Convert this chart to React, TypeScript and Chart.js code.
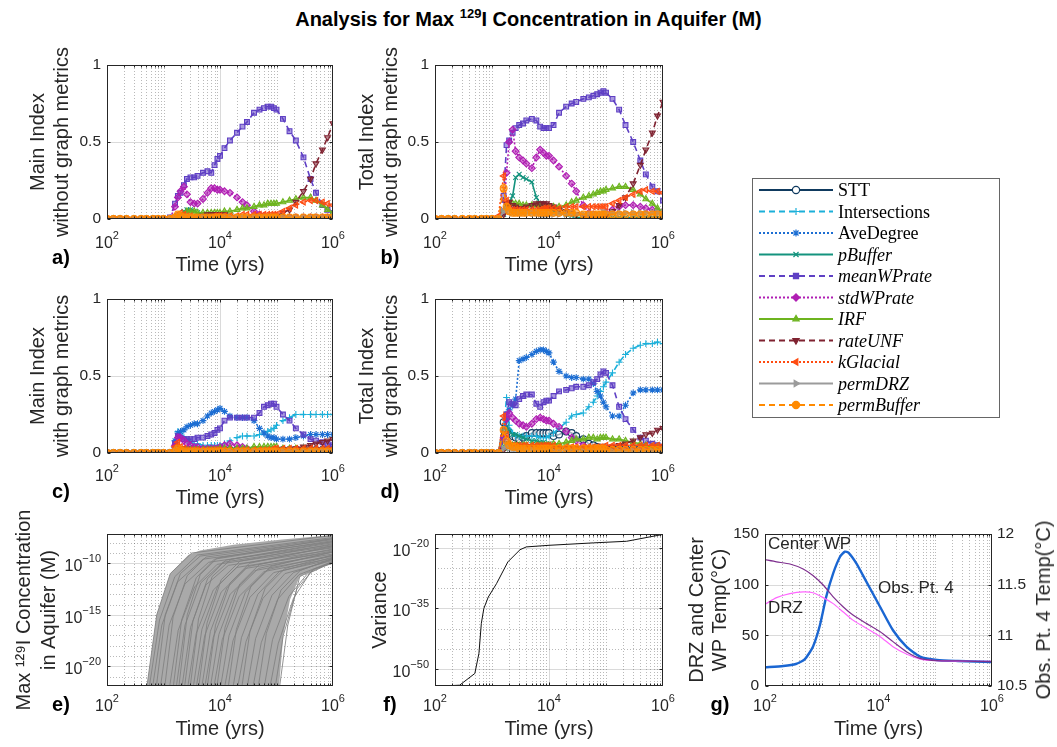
import React, { useEffect, useRef } from 'react';
import { Chart, registerables } from 'chart.js';

Chart.register(...registerables);

const SANS = "'Liberation Sans', Arial, Helvetica, sans-serif";
const SERIF = "'Liberation Serif', 'Times New Roman', serif";
const INK = '#262626';

// ------------------------------------------------------------------ DATA
const TIME_YRS = [100, 130, 170, 220, 300, 400, 500, 650, 800, 1000,
  1300, 1600, 1800, 2000, 2300, 2600, 3000, 3500, 4000, 5000,
  6000, 7000, 8000, 9000, 10000, 12000, 15000, 20000, 25000, 30000,
  40000, 50000, 60000, 70000, 80000, 90000, 100000, 130000, 170000, 220000,
  300000, 400000, 500000, 650000, 800000, 1000000];

const X_TICKS = [100, 10000, 1000000];

const SERIES_NAMES = ['STT', 'Intersections', 'AveDegree', 'pBuffer', 'meanWPrate', 'stdWPrate', 'IRF', 'rateUNF', 'kGlacial', 'permDRZ', 'permBuffer'];

// a) Main index without graph metrics
const A_PBUFFER = [0, 0, 0, 0, 0, 0, 0, 0, 0, 0, 0, 0.01, 0.02, 0.03, 0.05, 0.06, 0.06, 0.05, 0.04, 0.03, 0.02, 0.02, 0.02, 0.02, 0.01, 0.01, 0.01, 0.01, 0.01, 0.01, 0.01, 0.01, 0.01, 0.01, 0.01, 0.01, 0.01, 0.01, 0.01, 0.01, 0.01, 0.01, 0.01, 0.01, 0.01, 0.01];
const A_MEANWPRATE = [0, 0, 0, 0, 0, 0, 0, 0, 0, 0, 0.01, 0.10, 0.15, 0.17, 0.22, 0.26, 0.27, 0.27, 0.28, 0.30, 0.31, 0.30, 0.35, 0.39, 0.41, 0.46, 0.51, 0.56, 0.60, 0.63, 0.69, 0.71, 0.72, 0.73, 0.73, 0.72, 0.71, 0.65, 0.57, 0.51, 0.40, 0.26, 0.17, 0.09, 0.06, 0.04];
const A_STDWPRATE = [0, 0, 0, 0, 0, 0, 0, 0, 0, 0, 0, 0.08, 0.14, 0.18, 0.21, 0.16, 0.11, 0.10, 0.10, 0.13, 0.17, 0.20, 0.20, 0.19, 0.19, 0.18, 0.17, 0.14, 0.11, 0.09, 0.05, 0.03, 0.02, 0.01, 0.01, 0.01, 0.01, 0.01, 0.01, 0.01, 0.01, 0.01, 0.01, 0.01, 0.01, 0.01];
const A_IRF = [0, 0, 0, 0, 0, 0, 0, 0, 0, 0, 0, 0.01, 0.01, 0.02, 0.03, 0.05, 0.05, 0.05, 0.04, 0.04, 0.04, 0.04, 0.04, 0.04, 0.04, 0.05, 0.05, 0.06, 0.07, 0.07, 0.08, 0.09, 0.09, 0.10, 0.10, 0.10, 0.10, 0.11, 0.12, 0.13, 0.14, 0.14, 0.12, 0.09, 0.06, 0.04];
const A_RATEUNF = [0, 0, 0, 0, 0, 0, 0, 0, 0, 0, 0, 0.01, 0.01, 0.01, 0.01, 0.01, 0.01, 0.01, 0.01, 0.02, 0.03, 0.03, 0.03, 0.03, 0.03, 0.03, 0.02, 0.01, 0.01, 0.01, 0.01, 0.01, 0.01, 0.01, 0.01, 0.01, 0.02, 0.04, 0.06, 0.11, 0.18, 0.26, 0.36, 0.45, 0.53, 0.62];
const A_KGLACIAL = [0, 0, 0, 0, 0, 0, 0, 0, 0, 0, 0, 0.02, 0.03, 0.04, 0.03, 0.02, 0.02, 0.01, 0.01, 0.01, 0.01, 0.01, 0.02, 0.02, 0.02, 0.02, 0.02, 0.02, 0.03, 0.03, 0.03, 0.03, 0.03, 0.03, 0.03, 0.03, 0.03, 0.05, 0.07, 0.09, 0.11, 0.12, 0.12, 0.11, 0.10, 0.09];
const A_PERMDRZ = [0, 0, 0, 0, 0, 0, 0, 0, 0, 0, 0, 0.01, 0.02, 0.02, 0.01, 0.01, 0.01, 0.01, 0.01, 0.01, 0.01, 0.01, 0.01, 0.01, 0.01, 0.01, 0.01, 0.01, 0.01, 0.01, 0.01, 0.01, 0.01, 0.01, 0.01, 0.01, 0.01, 0.01, 0.01, 0.01, 0.01, 0.01, 0.01, 0.01, 0.01, 0.01];
const A_PERMBUFFER = [0, 0, 0, 0, 0, 0, 0, 0, 0, 0, 0, 0.01, 0.03, 0.02, 0.01, 0.01, 0.01, 0.01, 0.01, 0.01, 0.01, 0.01, 0.01, 0.01, 0.01, 0.01, 0.01, 0.01, 0.01, 0.01, 0.01, 0.01, 0.01, 0.01, 0.01, 0.01, 0.01, 0.01, 0.01, 0.01, 0.01, 0.01, 0.01, 0.01, 0.01, 0.01];

// b) Total index without graph metrics
const B_PBUFFER = [0, 0, 0, 0, 0, 0, 0, 0, 0, 0, 0, 0.03, 0.08, 0.10, 0.15, 0.27, 0.29, 0.27, 0.26, 0.24, 0.14, 0.10, 0.08, 0.07, 0.06, 0.05, 0.04, 0.03, 0.02, 0.01, 0.01, 0.01, 0.01, 0.01, 0.01, 0.01, 0.01, 0.01, 0.01, 0.01, 0.01, 0.01, 0.01, 0.01, 0.01, 0.01];
const B_MEANWPRATE = [0, 0, 0, 0, 0, 0, 0, 0, 0, 0, 0, 0.15, 0.48, 0.51, 0.56, 0.59, 0.61, 0.62, 0.64, 0.65, 0.64, 0.60, 0.59, 0.59, 0.59, 0.61, 0.69, 0.73, 0.75, 0.76, 0.78, 0.79, 0.80, 0.81, 0.82, 0.83, 0.82, 0.78, 0.71, 0.61, 0.50, 0.38, 0.29, 0.21, 0.18, 0.12];
const B_STDWPRATE = [0, 0, 0, 0, 0, 0, 0, 0, 0, 0, 0, 0.05, 0.30, 0.50, 0.58, 0.44, 0.40, 0.38, 0.36, 0.33, 0.40, 0.45, 0.43, 0.41, 0.41, 0.38, 0.34, 0.28, 0.23, 0.18, 0.09, 0.04, 0.03, 0.02, 0.02, 0.03, 0.04, 0.06, 0.08, 0.09, 0.09, 0.08, 0.07, 0.06, 0.05, 0.05];
const B_IRF = [0, 0, 0, 0, 0, 0, 0, 0, 0, 0, 0, 0.05, 0.08, 0.10, 0.10, 0.10, 0.10, 0.09, 0.09, 0.09, 0.09, 0.08, 0.08, 0.08, 0.08, 0.08, 0.08, 0.09, 0.11, 0.12, 0.14, 0.15, 0.16, 0.17, 0.18, 0.18, 0.19, 0.20, 0.21, 0.21, 0.19, 0.16, 0.13, 0.10, 0.07, 0.05];
const B_RATEUNF = [0, 0, 0, 0, 0, 0, 0, 0, 0, 0, 0, 0.03, 0.10, 0.11, 0.09, 0.08, 0.07, 0.07, 0.08, 0.09, 0.10, 0.10, 0.10, 0.10, 0.09, 0.08, 0.06, 0.05, 0.04, 0.03, 0.02, 0.01, 0.01, 0.01, 0.01, 0.01, 0.02, 0.05, 0.09, 0.14, 0.23, 0.35, 0.45, 0.56, 0.67, 0.76];
const B_KGLACIAL = [0, 0, 0, 0, 0, 0, 0, 0, 0, 0, 0.02, 0.28, 0.12, 0.07, 0.06, 0.06, 0.06, 0.06, 0.06, 0.06, 0.06, 0.06, 0.07, 0.07, 0.07, 0.07, 0.07, 0.08, 0.08, 0.08, 0.08, 0.08, 0.08, 0.08, 0.08, 0.08, 0.08, 0.10, 0.12, 0.14, 0.16, 0.18, 0.19, 0.18, 0.18, 0.17];
const B_PERMDRZ = [0, 0, 0, 0, 0, 0, 0, 0, 0, 0, 0, 0.05, 0.06, 0.05, 0.04, 0.04, 0.04, 0.04, 0.04, 0.04, 0.04, 0.03, 0.03, 0.03, 0.03, 0.03, 0.03, 0.03, 0.03, 0.03, 0.03, 0.03, 0.03, 0.03, 0.03, 0.04, 0.04, 0.04, 0.04, 0.04, 0.04, 0.04, 0.04, 0.04, 0.04, 0.04];
const B_PERMBUFFER = [0, 0, 0, 0, 0, 0, 0, 0, 0, 0, 0, 0.20, 0.08, 0.05, 0.04, 0.04, 0.04, 0.04, 0.04, 0.04, 0.04, 0.04, 0.04, 0.04, 0.04, 0.04, 0.04, 0.04, 0.04, 0.04, 0.03, 0.03, 0.03, 0.03, 0.03, 0.03, 0.03, 0.03, 0.03, 0.03, 0.03, 0.03, 0.03, 0.03, 0.03, 0.03];

// c) Main index with graph metrics
const C_STT = [0, 0, 0, 0, 0, 0, 0, 0, 0, 0, 0, 0.01, 0.02, 0.02, 0.02, 0.02, 0.02, 0.02, 0.02, 0.02, 0.02, 0.02, 0.02, 0.02, 0.02, 0.02, 0.02, 0.02, 0.02, 0.02, 0.02, 0.02, 0.02, 0.02, 0.02, 0.02, 0.02, 0.02, 0.02, 0.02, 0.02, 0.02, 0.02, 0.02, 0.02, 0.02];
const C_INTERSECTIONS = [0, 0, 0, 0, 0, 0, 0, 0, 0, 0, 0, 0.08, 0.14, 0.13, 0.10, 0.08, 0.07, 0.06, 0.06, 0.05, 0.05, 0.05, 0.05, 0.05, 0.05, 0.06, 0.08, 0.10, 0.11, 0.11, 0.11, 0.12, 0.13, 0.14, 0.15, 0.16, 0.18, 0.21, 0.23, 0.25, 0.25, 0.25, 0.25, 0.25, 0.25, 0.25];
const C_AVEDEGREE = [0, 0, 0, 0, 0, 0, 0, 0, 0, 0, 0, 0.08, 0.13, 0.14, 0.15, 0.17, 0.18, 0.19, 0.19, 0.21, 0.24, 0.26, 0.27, 0.28, 0.29, 0.27, 0.24, 0.23, 0.23, 0.23, 0.21, 0.16, 0.13, 0.11, 0.10, 0.10, 0.09, 0.09, 0.09, 0.10, 0.11, 0.12, 0.12, 0.12, 0.12, 0.12];
const C_PBUFFER = [0, 0, 0, 0, 0, 0, 0, 0, 0, 0, 0, 0.01, 0.03, 0.02, 0.01, 0.01, 0.01, 0.01, 0.01, 0.01, 0.01, 0.01, 0.01, 0.01, 0.01, 0.01, 0.01, 0.01, 0.01, 0.01, 0.01, 0.01, 0.01, 0.01, 0.01, 0.01, 0.01, 0.01, 0.01, 0.01, 0.01, 0.01, 0.01, 0.01, 0.01, 0.01];
const C_MEANWPRATE = [0, 0, 0, 0, 0, 0, 0, 0, 0, 0, 0, 0.06, 0.11, 0.10, 0.09, 0.09, 0.09, 0.09, 0.10, 0.10, 0.11, 0.12, 0.13, 0.15, 0.16, 0.21, 0.23, 0.23, 0.23, 0.23, 0.23, 0.26, 0.30, 0.31, 0.32, 0.32, 0.30, 0.25, 0.21, 0.16, 0.12, 0.09, 0.08, 0.07, 0.06, 0.05];
const C_STDWPRATE = [0, 0, 0, 0, 0, 0, 0, 0, 0, 0, 0, 0.05, 0.10, 0.10, 0.08, 0.06, 0.05, 0.04, 0.04, 0.03, 0.03, 0.03, 0.03, 0.03, 0.04, 0.05, 0.06, 0.05, 0.04, 0.03, 0.02, 0.01, 0.01, 0.01, 0.01, 0.01, 0.01, 0.01, 0.01, 0.01, 0.01, 0.01, 0.01, 0.01, 0.01, 0.01];
const C_IRF = [0, 0, 0, 0, 0, 0, 0, 0, 0, 0, 0, 0.01, 0.02, 0.02, 0.02, 0.02, 0.02, 0.02, 0.02, 0.02, 0.02, 0.02, 0.02, 0.02, 0.03, 0.03, 0.03, 0.03, 0.03, 0.03, 0.04, 0.04, 0.04, 0.04, 0.04, 0.04, 0.04, 0.03, 0.03, 0.03, 0.03, 0.03, 0.02, 0.02, 0.02, 0.02];
const C_RATEUNF = [0, 0, 0, 0, 0, 0, 0, 0, 0, 0, 0, 0.01, 0.01, 0.01, 0.01, 0.01, 0.01, 0.01, 0.01, 0.01, 0.01, 0.01, 0.01, 0.01, 0.01, 0.01, 0.01, 0.01, 0.01, 0.01, 0.01, 0.01, 0.01, 0.01, 0.01, 0.01, 0.02, 0.02, 0.02, 0.03, 0.04, 0.05, 0.06, 0.07, 0.08, 0.09];
const C_KGLACIAL = [0, 0, 0, 0, 0, 0, 0, 0, 0, 0, 0, 0.04, 0.07, 0.04, 0.03, 0.02, 0.02, 0.02, 0.02, 0.02, 0.02, 0.02, 0.02, 0.02, 0.02, 0.02, 0.02, 0.02, 0.02, 0.02, 0.02, 0.02, 0.02, 0.02, 0.02, 0.03, 0.03, 0.03, 0.03, 0.03, 0.03, 0.03, 0.03, 0.03, 0.03, 0.03];
const C_PERMDRZ = [0, 0, 0, 0, 0, 0, 0, 0, 0, 0, 0, 0.01, 0.02, 0.01, 0.01, 0.01, 0.01, 0.01, 0.01, 0.01, 0.01, 0.01, 0.01, 0.01, 0.01, 0.01, 0.01, 0.01, 0.01, 0.01, 0.01, 0.01, 0.01, 0.01, 0.01, 0.01, 0.01, 0.01, 0.01, 0.01, 0.01, 0.01, 0.01, 0.01, 0.01, 0.01];
const C_PERMBUFFER = [0, 0, 0, 0, 0, 0, 0, 0, 0, 0, 0, 0.01, 0.03, 0.02, 0.01, 0.01, 0.01, 0.01, 0.01, 0.01, 0.01, 0.01, 0.01, 0.01, 0.01, 0.01, 0.01, 0.01, 0.01, 0.01, 0.01, 0.01, 0.01, 0.01, 0.01, 0.01, 0.01, 0.01, 0.01, 0.01, 0.01, 0.01, 0.01, 0.01, 0.01, 0.01];

// d) Total index with graph metrics
const D_STT = [0, 0, 0, 0, 0, 0, 0, 0, 0, 0, 0, 0.20, 0.15, 0.12, 0.11, 0.10, 0.09, 0.10, 0.11, 0.13, 0.13, 0.13, 0.13, 0.13, 0.13, 0.11, 0.12, 0.14, 0.13, 0.11, 0.09, 0.06, 0.05, 0.04, 0.03, 0.03, 0.03, 0.03, 0.03, 0.03, 0.03, 0.03, 0.03, 0.03, 0.03, 0.03];
const D_INTERSECTIONS = [0, 0, 0, 0, 0, 0, 0, 0, 0, 0, 0, 0.15, 0.36, 0.18, 0.13, 0.11, 0.11, 0.11, 0.11, 0.11, 0.11, 0.10, 0.10, 0.10, 0.11, 0.13, 0.16, 0.20, 0.24, 0.25, 0.26, 0.30, 0.33, 0.37, 0.40, 0.43, 0.46, 0.52, 0.59, 0.64, 0.68, 0.70, 0.71, 0.71, 0.72, 0.71];
const D_AVEDEGREE = [0, 0, 0, 0, 0, 0, 0, 0, 0, 0, 0, 0.10, 0.22, 0.28, 0.31, 0.35, 0.60, 0.61, 0.62, 0.64, 0.66, 0.67, 0.67, 0.66, 0.65, 0.59, 0.53, 0.50, 0.49, 0.49, 0.48, 0.48, 0.45, 0.40, 0.37, 0.33, 0.30, 0.24, 0.24, 0.31, 0.39, 0.41, 0.41, 0.41, 0.41, 0.41];
const D_PBUFFER = [0, 0, 0, 0, 0, 0, 0, 0, 0, 0, 0, 0.08, 0.17, 0.14, 0.12, 0.12, 0.11, 0.10, 0.09, 0.08, 0.08, 0.07, 0.07, 0.06, 0.06, 0.05, 0.04, 0.04, 0.03, 0.03, 0.02, 0.02, 0.02, 0.02, 0.02, 0.02, 0.02, 0.02, 0.02, 0.02, 0.02, 0.02, 0.02, 0.02, 0.02, 0.02];
const D_MEANWPRATE = [0, 0, 0, 0, 0, 0, 0, 0, 0, 0, 0, 0.10, 0.25, 0.33, 0.32, 0.31, 0.35, 0.37, 0.38, 0.38, 0.32, 0.30, 0.33, 0.34, 0.34, 0.37, 0.40, 0.41, 0.42, 0.43, 0.43, 0.44, 0.46, 0.48, 0.51, 0.53, 0.52, 0.44, 0.30, 0.22, 0.15, 0.10, 0.08, 0.06, 0.05, 0.04];
const D_STDWPRATE = [0, 0, 0, 0, 0, 0, 0, 0, 0, 0, 0, 0.10, 0.22, 0.26, 0.23, 0.21, 0.19, 0.18, 0.17, 0.19, 0.22, 0.23, 0.22, 0.21, 0.21, 0.19, 0.17, 0.14, 0.10, 0.08, 0.05, 0.03, 0.02, 0.02, 0.02, 0.02, 0.02, 0.02, 0.02, 0.02, 0.02, 0.02, 0.02, 0.02, 0.02, 0.02];
const D_IRF = [0, 0, 0, 0, 0, 0, 0, 0, 0, 0, 0, 0.03, 0.05, 0.06, 0.05, 0.05, 0.05, 0.05, 0.05, 0.05, 0.05, 0.05, 0.05, 0.05, 0.05, 0.06, 0.06, 0.07, 0.08, 0.09, 0.09, 0.10, 0.10, 0.09, 0.10, 0.10, 0.10, 0.09, 0.09, 0.08, 0.07, 0.06, 0.05, 0.04, 0.04, 0.03];
const D_RATEUNF = [0, 0, 0, 0, 0, 0, 0, 0, 0, 0, 0, 0.02, 0.06, 0.05, 0.04, 0.04, 0.04, 0.04, 0.04, 0.04, 0.04, 0.04, 0.04, 0.04, 0.04, 0.03, 0.03, 0.03, 0.03, 0.03, 0.03, 0.03, 0.03, 0.03, 0.03, 0.03, 0.03, 0.04, 0.05, 0.06, 0.08, 0.10, 0.12, 0.13, 0.15, 0.16];
const D_KGLACIAL = [0, 0, 0, 0, 0, 0, 0, 0, 0, 0, 0, 0.24, 0.12, 0.06, 0.05, 0.05, 0.05, 0.05, 0.05, 0.05, 0.05, 0.05, 0.05, 0.05, 0.05, 0.05, 0.04, 0.04, 0.04, 0.04, 0.04, 0.04, 0.04, 0.04, 0.04, 0.04, 0.05, 0.05, 0.05, 0.05, 0.05, 0.05, 0.05, 0.05, 0.05, 0.05];
const D_PERMDRZ = [0, 0, 0, 0, 0, 0, 0, 0, 0, 0, 0, 0.03, 0.05, 0.03, 0.02, 0.02, 0.02, 0.02, 0.02, 0.02, 0.02, 0.01, 0.01, 0.01, 0.01, 0.01, 0.01, 0.01, 0.01, 0.01, 0.01, 0.01, 0.01, 0.01, 0.01, 0.01, 0.01, 0.01, 0.01, 0.01, 0.01, 0.01, 0.01, 0.01, 0.01, 0.01];
const D_PERMBUFFER = [0, 0, 0, 0, 0, 0, 0, 0, 0, 0, 0, 0.15, 0.08, 0.05, 0.04, 0.04, 0.03, 0.03, 0.03, 0.03, 0.03, 0.03, 0.03, 0.03, 0.03, 0.03, 0.03, 0.03, 0.03, 0.03, 0.03, 0.03, 0.03, 0.03, 0.03, 0.03, 0.02, 0.02, 0.02, 0.02, 0.02, 0.02, 0.02, 0.02, 0.02, 0.02];

// e) realisations of max 129I concentration: [log10 t, log10 C] pairs per realisation
const E_RUNS_LOG10 = [
  [2.68, -23, 2.88, -15, 3.12, -11, 3.50, -9.0, 6, -7.3],
  [2.72, -23, 2.93, -15.5, 3.20, -11.3, 3.60, -9.2, 6, -7.5],
  [2.78, -23, 2.97, -16, 3.25, -11.8, 3.70, -9.6, 6, -7.9],
  [2.85, -23, 3.03, -15, 3.30, -11, 3.65, -9.3, 6, -7.6],
  [2.92, -23, 3.10, -16, 3.38, -12, 3.80, -9.9, 6, -8.2],
  [3.00, -23, 3.17, -15.2, 3.42, -11.2, 3.75, -9.4, 6, -7.7],
  [3.08, -23, 3.26, -16.5, 3.55, -12.3, 3.95, -10.1, 6, -8.5],
  [3.15, -23, 3.32, -15.5, 3.58, -11.4, 3.90, -9.6, 6, -7.8],
  [3.20, -23, 3.38, -16, 3.66, -11.9, 4.05, -9.9, 6, -8.3],
  [3.25, -23, 3.42, -15, 3.65, -11.1, 3.95, -9.5, 6, -7.6],
  [3.30, -23, 3.48, -16.2, 3.75, -12.1, 4.15, -10.2, 6, -8.7],
  [3.35, -23, 3.52, -15.6, 3.78, -11.5, 4.10, -9.7, 6, -8.0],
  [3.40, -23, 3.58, -16.8, 3.88, -12.6, 4.30, -10.4, 6, -8.9],
  [3.45, -23, 3.62, -15.4, 3.86, -11.3, 4.20, -9.6, 6, -7.9],
  [3.50, -23, 3.68, -16.4, 3.96, -12.2, 4.35, -10.1, 6, -8.4],
  [3.55, -23, 3.73, -17, 4.02, -12.8, 4.45, -10.5, 6, -9.1],
  [3.60, -23, 3.77, -15.8, 4.02, -11.6, 4.35, -9.8, 6, -8.1],
  [3.65, -23, 3.83, -16.6, 4.12, -12.4, 4.50, -10.3, 6, -8.8],
  [3.70, -23, 3.88, -17.2, 4.18, -13.0, 4.62, -10.7, 6, -9.3],
  [3.75, -23, 3.92, -16.0, 4.18, -11.9, 4.52, -10.0, 6, -8.3],
  [3.80, -23, 3.98, -16.9, 4.27, -12.7, 4.68, -10.5, 6, -8.9],
  [3.86, -23, 4.04, -17.4, 4.34, -13.2, 4.78, -10.8, 6, -9.5],
  [3.92, -23, 4.09, -16.2, 4.35, -12.0, 4.70, -10.1, 6, -8.6],
  [3.98, -23, 4.16, -17.0, 4.45, -12.8, 4.85, -10.6, 6, -9.2],
  [4.05, -23, 4.23, -17.5, 4.53, -13.3, 4.95, -10.9, 6, -9.6],
  [4.12, -23, 4.29, -16.4, 4.55, -12.2, 4.90, -10.3, 6, -8.9],
  [4.20, -23, 4.38, -17.2, 4.67, -13.0, 5.05, -10.8, 6, -9.4],
  [4.28, -23, 4.46, -17.6, 4.76, -13.4, 5.15, -11.0, 6, -9.7],
  [4.36, -23, 4.53, -16.6, 4.80, -12.4, 5.15, -10.5, 6, -9.2],
  [4.45, -23, 4.63, -17.3, 4.92, -13.1, 5.30, -10.9, 6, -9.6],
  [4.55, -23, 4.73, -17.7, 5.02, -13.5, 5.40, -11.1, 6, -9.8],
  [4.65, -23, 4.82, -16.8, 5.08, -12.6, 5.42, -10.7, 6, -9.5],
  [4.75, -23, 4.93, -17.4, 5.22, -13.2, 5.55, -11.0, 6, -9.8],
  [4.85, -23, 5.03, -17.8, 5.30, -13.4, 5.60, -10.9, 6, -9.9],
  [4.95, -23, 5.12, -17.0, 5.36, -12.5, 5.65, -10.6, 6, -9.9],
  [5.03, -23, 5.20, -16.0, 5.41, -11.3, 5.70, -10.5, 6, -10.0],
];
const E_UPPER_EDGE_LOG10 = [2.68, -23, 2.88, -15, 3.12, -11, 3.44, -9.2, 3.65, -8.75, 4.24, -8.2, 5.1, -7.7, 6, -7.25];
const E_LOWER_EDGE_LOG10 = [6, -10.0, 5.7, -10.5, 5.41, -11.3, 5.24, -13.5, 5.12, -17, 5.03, -23, 2.68, -23];

// f) variance
const F_TIME = [190, 270, 500, 590, 650, 720, 860, 1200, 1900, 3100, 4000, 10000, 60000, 230000, 1000000];
const F_VARIANCE = [7.9e-55, 1e-54, 7.9e-52, 7.9e-47, 2.0e-39, 1e-35, 6.3e-33, 1.3e-29, 3.2e-24, 3.2e-21, 1.6e-20, 4.0e-20, 1.6e-19, 4.0e-19, 2.0e-17];

// g) temperatures
const G_TIME = [100, 160, 275, 470, 700, 1060, 1590, 2400, 3550, 6100, 10700, 18000, 31000, 54000, 107000, 250000, 1000000];
const G_CENTER_WP = [124.7, 122.5, 120.4, 115.5, 109, 99.7, 88, 78, 70, 61.8, 53.6, 43.8, 33.9, 27.3, 25, 24.7, 24];
const G_DRZ = [80.6, 87.2, 91.1, 92.8, 92, 87.2, 81.3, 73, 65, 57, 48.7, 38.8, 31.6, 26.6, 25, 24.6, 24.3];
const G_OBS_TIME = [100, 210, 350, 500, 700, 930, 1200, 1590, 2100, 2560, 2950, 4070, 6100, 10700, 18000, 31000, 54000, 107000, 250000, 1000000];
const G_OBS_PT4 = [10.684, 10.697, 10.717, 10.763, 10.888, 11.102, 11.382, 11.612, 11.776, 11.826, 11.816, 11.71, 11.53, 11.28, 11.05, 10.888, 10.79, 10.757, 10.747, 10.737];

// ------------------------------------------------------------------ STYLES
type Sty = { color: string; dash: number[]; marker: string; rot: number; hollow?: boolean };
const STYLE: Record<string, Sty> = {
  STT: { color: '#0f3a5f', dash: [], marker: 'circle', rot: 0, hollow: true },
  Intersections: { color: '#1bb0da', dash: [6, 4], marker: 'cross', rot: 0 },
  AveDegree: { color: '#1c6ed3', dash: [2, 2], marker: 'star', rot: 0 },
  pBuffer: { color: '#14937e', dash: [], marker: 'crossRot', rot: 0 },
  meanWPrate: { color: '#5f40c4', dash: [6, 4], marker: 'rect', rot: 0 },
  stdWPrate: { color: '#b01eb3', dash: [2, 2], marker: 'rectRot', rot: 0 },
  IRF: { color: '#6db41f', dash: [], marker: 'triangle', rot: 0 },
  rateUNF: { color: '#7f2230', dash: [6, 4], marker: 'triangle', rot: 180 },
  kGlacial: { color: '#ff4b10', dash: [2, 2], marker: 'triangle', rot: 270 },
  permDRZ: { color: '#9b9b9b', dash: [], marker: 'triangle', rot: 90 },
  permBuffer: { color: '#ff8a00', dash: [6, 4], marker: 'circle', rot: 0 },
};

const X_MINOR: number[] = [];
for (let d = 2; d <= 5; d++) for (let k = 1; k <= 9; k++) { const v = k * Math.pow(10, d); if (v !== 100 && v !== 10000) X_MINOR.push(v); }

// ------------------------------------------------------------------ PLUGIN: MATLAB-like grid / box / 10^n labels
const matGrid: any = {
  id: 'matGrid',
  beforeDatasetsDraw(chart: any, _a: any, o: any) {
    const { ctx, chartArea: ca } = chart;
    const xs = chart.scales.x;
    const ys = chart.scales[o.yId || 'y'];
    ctx.save();
    ctx.beginPath();
    ctx.rect(ca.left, ca.top, ca.right - ca.left, ca.bottom - ca.top);
    ctx.clip();
    ctx.lineWidth = 1;
    const vline = (v: number) => { const p = Math.round(xs.getPixelForValue(v)) + 0.5; ctx.beginPath(); ctx.moveTo(p, ca.top); ctx.lineTo(p, ca.bottom); ctx.stroke(); };
    const hline = (v: number) => { const p = Math.round(ys.getPixelForValue(v)) + 0.5; ctx.beginPath(); ctx.moveTo(ca.left, p); ctx.lineTo(ca.right, p); ctx.stroke(); };
    ctx.setLineDash([1, 2]);
    ctx.strokeStyle = 'rgba(38,38,38,0.32)';
    (o.xMinor || []).forEach(vline);
    (o.yMinor || []).forEach(hline);
    ctx.setLineDash([]);
    ctx.strokeStyle = 'rgba(38,38,38,0.17)';
    (o.xMajor || []).forEach(vline);
    (o.yMajor || []).forEach(hline);
    ctx.restore();
  },
  afterDatasetsDraw(chart: any, _a: any, o: any) {
    const { ctx, chartArea: ca } = chart;
    const xs = chart.scales.x;
    const ys = chart.scales[o.yId || 'y'];
    const yr = o.yRId ? chart.scales[o.yRId] : ys;
    ctx.save();
    ctx.strokeStyle = INK;
    ctx.lineWidth = 1;
    const L = Math.round(ca.left) + 0.5, R = Math.round(ca.right) - 0.5, T = Math.round(ca.top) + 0.5, B = Math.round(ca.bottom) - 0.5;
    ctx.strokeRect(L, T, R - L, B - T);
    ctx.beginPath();
    const xt = (v: number, len: number) => { const p = Math.round(xs.getPixelForValue(v)) + 0.5; ctx.moveTo(p, B); ctx.lineTo(p, B - len); ctx.moveTo(p, T); ctx.lineTo(p, T + len); };
    (o.xMajor || []).forEach((v: number) => xt(v, 3));
    X_MINOR.forEach((v) => xt(v, 2));
    (o.yTicks || []).forEach((v: number) => { const p = Math.round(ys.getPixelForValue(v)) + 0.5; ctx.moveTo(L, p); ctx.lineTo(L + 3, p); if (!o.yRId) { ctx.moveTo(R, p); ctx.lineTo(R - 3, p); } });
    (o.yRTicks || []).forEach((v: number) => { const p = Math.round(yr.getPixelForValue(v)) + 0.5; ctx.moveTo(R, p); ctx.lineTo(R - 3, p); });
    ctx.stroke();
    ctx.restore();
  },
  afterDraw(chart: any, _a: any, o: any) {
    const { ctx, chartArea: ca } = chart;
    const xs = chart.scales.x;
    const ys = chart.scales[o.yId || 'y'];
    const big = `16px ${SANS}`;
    const small = `11px ${SANS}`;
    ctx.save();
    ctx.fillStyle = INK;
    ctx.textBaseline = 'alphabetic';
    ctx.textAlign = 'left';
    const draw = (exp: string, x: number, yb: number, align: 'center' | 'right') => {
      ctx.font = big;
      const w1 = ctx.measureText('10').width;
      ctx.font = small;
      const w2 = ctx.measureText(exp).width;
      const x0 = align === 'center' ? x - (w1 + w2) / 2 : x - (w1 + w2);
      ctx.font = big;
      ctx.fillText('10', x0, yb);
      ctx.font = small;
      ctx.fillText(exp, x0 + w1, yb - 9);
    };
    if (o.xPowOffset) X_TICKS.forEach((v) => draw(String(Math.round(Math.log10(v))), xs.getPixelForValue(v), ca.bottom + o.xPowOffset, 'center'));
    if (o.yPow) (o.yTicks || []).forEach((v: number) => draw(String(Math.round(Math.log10(v))).replace('-', '\u2212'), ca.left - 6, ys.getPixelForValue(v) + 8, 'right'));
    ctx.restore();
  },
};

// ------------------------------------------------------------------ HELPERS
type Geo = { L: number; R: number; T: number; B: number; leftW: number; padT: number; padR: number; bottomH: number; rightW?: number };
const boxOf = (g: Geo) => ({ x: g.L - g.leftW, y: g.T - g.padT, w: g.leftW + (g.R - g.L) + (g.rightW ?? g.padR), h: g.padT + (g.B - g.T) + g.bottomH });

const tickFont = { family: SANS, size: 15.5 };

function timeAxis(g: Geo, titlePadBottom: number) {
  return {
    type: 'logarithmic', min: 100, max: 1e6,
    afterBuildTicks: (s: any) => { s.ticks = X_TICKS.map((v) => ({ value: v })); },
    afterFit: (s: any) => { s.height = g.bottomH; s.paddingLeft = 0; s.paddingRight = 0; },
    ticks: { display: false },
    grid: { display: false, drawTicks: false },
    border: { display: false },
    title: { display: true, text: 'Time (yrs)', color: INK, font: { family: SANS, size: 20, lineHeight: 1.2 }, padding: { top: 0, bottom: titlePadBottom } },
  };
}

function yTitle(text: string | string[], padTop: number, lineHeight = 1.2) {
  return { display: true, text, color: INK, font: { family: SANS, size: 20, lineHeight }, padding: { top: padTop, bottom: 0 } };
}

const fitY = (w: number) => (s: any) => { s.width = w; s.paddingTop = 0; s.paddingBottom = 0; };

function seriesDataset(name: string, values: number[]) {
  const s = STYLE[name];
  const i = SERIES_NAMES.indexOf(name);
  return {
    label: name,
    data: TIME_YRS.map((t, k) => ({ x: t, y: values[k] })),
    borderColor: s.color,
    borderWidth: 1.6,
    borderDash: s.dash,
    fill: false,
    tension: 0,
    pointStyle: s.marker,
    pointRotation: s.rot,
    pointRadius: 3.4,
    pointBorderWidth: 1.1,
    pointBorderColor: s.color,
    pointBackgroundColor: s.hollow ? 'rgba(255,255,255,0.6)' : s.color + '88',
    order: -i,
  };
}

function baseOptions(g: Geo) {
  return {
    responsive: false,
    animation: false,
    events: [],
    layout: { padding: { top: g.padT, right: g.rightW ? 0 : g.padR, bottom: 0, left: 0 } },
  };
}

function indexConfig(g: Geo, series: [string, number[]][], title: string[], titlePadTop: number, xTitlePad: number, xPowOffset: number) {
  return {
    type: 'line',
    data: { datasets: series.map(([n, v]) => seriesDataset(n, v)) },
    options: {
      ...baseOptions(g),
      plugins: { legend: { display: false }, tooltip: { enabled: false }, matGrid: { xMinor: X_MINOR, xMajor: [10000], yMajor: [0.5], yTicks: [0, 0.5, 1], xPowOffset } },
      scales: {
        x: timeAxis(g, xTitlePad),
        y: {
          type: 'linear', min: 0, max: 1,
          afterBuildTicks: (s: any) => { s.ticks = [0, 0.5, 1].map((v) => ({ value: v })); },
          afterFit: fitY(g.leftW),
          ticks: { font: tickFont, color: INK, padding: 6, callback: (v: any) => String(v) },
          grid: { display: false, drawTicks: false },
          border: { display: false },
          title: yTitle(title, titlePadTop),
        },
      },
    },
    plugins: [matGrid],
  };
}

function ChartCanvas({ box, make }: { box: { x: number; y: number; w: number; h: number }; make: () => any }) {
  const ref = useRef<HTMLCanvasElement>(null);
  useEffect(() => {
    const c = new Chart(ref.current as HTMLCanvasElement, make());
    return () => c.destroy();
  }, []);
  return <canvas ref={ref} width={box.w} height={box.h} style={{ position: 'absolute', left: box.x, top: box.y, width: box.w, height: box.h }} />;
}

// ------------------------------------------------------------------ GEOMETRY
const GA: Geo = { L: 107, R: 333, T: 65, B: 219, leftW: 107, padT: 30, padR: 12, bottomH: 60 };
const GB: Geo = { L: 435, R: 663, T: 65, B: 219, leftW: 107, padT: 30, padR: 12, bottomH: 60 };
const GC: Geo = { L: 107, R: 333, T: 299, B: 453, leftW: 107, padT: 30, padR: 12, bottomH: 60 };
const GD: Geo = { L: 435, R: 663, T: 299, B: 453, leftW: 107, padT: 30, padR: 12, bottomH: 60 };
const GE: Geo = { L: 107, R: 333, T: 534, B: 686, leftW: 107, padT: 45, padR: 12, bottomH: 60 };
const GF: Geo = { L: 435, R: 663, T: 534, B: 686, leftW: 107, padT: 45, padR: 12, bottomH: 60 };
const GG: Geo = { L: 765, R: 992, T: 534, B: 686, leftW: 90, padT: 45, padR: 0, bottomH: 60, rightW: 65 };

// ------------------------------------------------------------------ CONFIGS
const makeA = () => indexConfig(GA, [['pBuffer', A_PBUFFER], ['meanWPrate', A_MEANWPRATE], ['stdWPrate', A_STDWPRATE], ['IRF', A_IRF], ['rateUNF', A_RATEUNF], ['kGlacial', A_KGLACIAL], ['permDRZ', A_PERMDRZ], ['permBuffer', A_PERMBUFFER]], ['Main Index', 'without graph metrics'], 26, 2, 29);
const makeB = () => indexConfig(GB, [['pBuffer', B_PBUFFER], ['meanWPrate', B_MEANWPRATE], ['stdWPrate', B_STDWPRATE], ['IRF', B_IRF], ['rateUNF', B_RATEUNF], ['kGlacial', B_KGLACIAL], ['permDRZ', B_PERMDRZ], ['permBuffer', B_PERMBUFFER]], ['Total Index', 'without graph metrics'], 27, 2, 29);
const makeC = () => indexConfig(GC, [['STT', C_STT], ['Intersections', C_INTERSECTIONS], ['AveDegree', C_AVEDEGREE], ['pBuffer', C_PBUFFER], ['meanWPrate', C_MEANWPRATE], ['stdWPrate', C_STDWPRATE], ['IRF', C_IRF], ['rateUNF', C_RATEUNF], ['kGlacial', C_KGLACIAL], ['permDRZ', C_PERMDRZ], ['permBuffer', C_PERMBUFFER]], ['Main Index', 'with graph metrics'], 26, 3, 28);
const makeD = () => indexConfig(GD, [['STT', D_STT], ['Intersections', D_INTERSECTIONS], ['AveDegree', D_AVEDEGREE], ['pBuffer', D_PBUFFER], ['meanWPrate', D_MEANWPRATE], ['stdWPrate', D_STDWPRATE], ['IRF', D_IRF], ['rateUNF', D_RATEUNF], ['kGlacial', D_KGLACIAL], ['permDRZ', D_PERMDRZ], ['permBuffer', D_PERMBUFFER]], ['Total Index', 'with graph metrics'], 27, 3, 28);

const toPoints = (pairs: number[]) => {
  const pts: { x: number; y: number }[] = [];
  for (let k = 0; k < pairs.length; k += 2) pts.push({ x: Math.pow(10, pairs[k]), y: Math.pow(10, pairs[k + 1]) });
  return pts;
};

const makeE = () => ({
  type: 'line',
  data: {
    datasets: [
      { data: toPoints([...E_UPPER_EDGE_LOG10, ...E_LOWER_EDGE_LOG10]), borderWidth: 0, borderColor: 'rgba(0,0,0,0)', backgroundColor: '#a9a9a9', fill: 'shape', pointRadius: 0, tension: 0, order: 5 },
      ...E_RUNS_LOG10.map((r) => ({ data: toPoints(r), borderColor: 'rgba(128,128,128,0.85)', borderWidth: 1, pointRadius: 0, fill: false, tension: 0, order: 1 })),
    ],
  },
  options: {
    ...baseOptions(GE),
    plugins: { legend: { display: false }, tooltip: { enabled: false }, matGrid: { xMinor: X_MINOR, xMajor: [10000], yMajor: [1e-10, 1e-15, 1e-20], yMinor: [1e-8, 1e-9, 1e-11, 1e-12, 1e-13, 1e-14, 1e-16, 1e-17, 1e-18, 1e-19, 1e-21], yTicks: [1e-10, 1e-15, 1e-20], yPow: true, xPowOffset: 25 } },
    scales: {
      x: timeAxis(GE, 5),
      y: {
        type: 'logarithmic', min: Math.pow(10, -21.9), max: Math.pow(10, -7.16),
        afterBuildTicks: (s: any) => { s.ticks = [1e-20, 1e-15, 1e-10].map((v) => ({ value: v })); },
        afterFit: fitY(GE.leftW),
        ticks: { display: false },
        grid: { display: false, drawTicks: false },
        border: { display: false },
        title: yTitle(['Max \u00b9\u00b2\u2079I Concentration', 'in Aquifer (M)'], 12, 1.25),
      },
    },
  },
  plugins: [matGrid],
});

const makeF = () => ({
  type: 'line',
  data: { datasets: [{ data: F_TIME.map((t, k) => ({ x: t, y: F_VARIANCE[k] })), borderColor: '#111', borderWidth: 1, pointRadius: 0, fill: false, tension: 0 }] },
  options: {
    ...baseOptions(GF),
    plugins: { legend: { display: false }, tooltip: { enabled: false }, matGrid: { xMinor: X_MINOR, xMajor: [10000], yMajor: [1e-20, 1e-35, 1e-50], yMinor: [1e-25, 1e-30, 1e-40, 1e-45], yTicks: [1e-20, 1e-35, 1e-50], yPow: true, xPowOffset: 25 } },
    scales: {
      x: timeAxis(GF, 5),
      y: {
        type: 'logarithmic', min: Math.pow(10, -54.2), max: Math.pow(10, -16.6),
        afterBuildTicks: (s: any) => { s.ticks = [1e-50, 1e-35, 1e-20].map((v) => ({ value: v })); },
        afterFit: fitY(GF.leftW),
        ticks: { display: false },
        grid: { display: false, drawTicks: false },
        border: { display: false },
        title: yTitle('Variance', 40),
      },
    },
  },
  plugins: [matGrid],
});

const makeG = () => ({
  type: 'line',
  data: {
    datasets: [
      { label: 'Center WP', data: G_TIME.map((t, k) => ({ x: t, y: G_CENTER_WP[k] })), borderColor: '#7e2f8e', borderWidth: 1.2, pointRadius: 0, fill: false, tension: 0.2, yAxisID: 'y' },
      { label: 'DRZ', data: G_TIME.map((t, k) => ({ x: t, y: G_DRZ[k] })), borderColor: '#ff66ff', borderWidth: 1.2, pointRadius: 0, fill: false, tension: 0.2, yAxisID: 'y' },
      { label: 'Obs. Pt. 4', data: G_OBS_TIME.map((t, k) => ({ x: t, y: G_OBS_PT4[k] })), borderColor: '#1a66d2', borderWidth: 2.4, pointRadius: 0, fill: false, tension: 0.2, yAxisID: 'y2' },
    ],
  },
  options: {
    ...baseOptions(GG),
    plugins: { legend: { display: false }, tooltip: { enabled: false }, matGrid: { xMinor: X_MINOR, xMajor: [10000], yMajor: [50, 100], yTicks: [0, 50, 100, 150], yRId: 'y2', yRTicks: [10.5, 11, 11.5, 12], xPowOffset: 25 } },
    scales: {
      x: timeAxis(GG, 5),
      y: {
        type: 'linear', position: 'left', min: 0, max: 150,
        afterBuildTicks: (s: any) => { s.ticks = [0, 50, 100, 150].map((v) => ({ value: v })); },
        afterFit: fitY(GG.leftW),
        ticks: { font: tickFont, color: INK, padding: 6 },
        grid: { display: false, drawTicks: false },
        border: { display: false },
        title: yTitle(['DRZ and Center', 'WP Temp(\u00b0C)'], 10.5, 1.15),
      },
      y2: {
        type: 'linear', position: 'right', min: 10.5, max: 12,
        afterBuildTicks: (s: any) => { s.ticks = [10.5, 11, 11.5, 12].map((v) => ({ value: v })); },
        afterFit: fitY(GG.rightW as number),
        ticks: { font: tickFont, color: INK, padding: 5, callback: (v: any) => String(v) },
        grid: { display: false, drawTicks: false },
        border: { display: false },
      },
    },
  },
  plugins: [matGrid],
});

// legend
const LEG = { x: 752, y: 178, w: 248, h: 240, row0: 12, rowH: 21.5, lineL: 7, lineR: 81 };
const makeLegend = () => ({
  type: 'line',
  data: {
    datasets: SERIES_NAMES.map((n, i) => {
      const s = STYLE[n];
      const y = LEG.row0 + i * LEG.rowH;
      return {
        data: [{ x: LEG.lineL, y }, { x: (LEG.lineL + LEG.lineR) / 2, y }, { x: LEG.lineR, y }],
        borderColor: s.color, borderWidth: 1.8, borderDash: s.dash, fill: false,
        pointStyle: s.marker, pointRotation: s.rot, pointRadius: [0, 3.6, 0], pointBorderWidth: 1.2,
        pointBorderColor: s.color, pointBackgroundColor: s.hollow ? '#fff' : s.color,
      };
    }),
  },
  options: {
    responsive: false, animation: false, events: [],
    layout: { padding: 0 },
    plugins: { legend: { display: false }, tooltip: { enabled: false } },
    scales: {
      x: { type: 'linear', display: false, min: 0, max: LEG.w },
      y: { type: 'linear', display: false, min: 0, max: LEG.h, reverse: true },
    },
  },
});

const textStyle = (size: number, bold = false): React.CSSProperties => ({ position: 'absolute', fontFamily: SANS, fontSize: size, fontWeight: bold ? 'bold' : 'normal', color: INK, whiteSpace: 'nowrap', lineHeight: 1 });

export default function App() {
  const panelLabels: [string, number, number][] = [['a)', 61, 257], ['b)', 390, 257], ['c)', 61, 491], ['d)', 390, 491], ['e)', 61, 704], ['f)', 390, 704], ['g)', 720, 704]];
  return (
    <div style={{ position: 'absolute', left: 0, top: 0, width: 1057, height: 747, background: '#fff', overflow: 'hidden' }}>
      <div style={{ ...textStyle(20, true), left: 0, width: 1057, top: 9, textAlign: 'center', color: '#000' }}>
        Analysis for Max <sup style={{ fontSize: 13, verticalAlign: 'baseline', position: 'relative', top: -8 }}>129</sup>I Concentration in Aquifer (M)
      </div>
      <ChartCanvas box={boxOf(GA)} make={makeA} />
      <ChartCanvas box={boxOf(GB)} make={makeB} />
      <ChartCanvas box={boxOf(GC)} make={makeC} />
      <ChartCanvas box={boxOf(GD)} make={makeD} />
      <ChartCanvas box={boxOf(GE)} make={makeE} />
      <ChartCanvas box={boxOf(GF)} make={makeF} />
      <ChartCanvas box={boxOf(GG)} make={makeG} />
      {panelLabels.map(([t, x, y]) => (
        <div key={t} style={{ ...textStyle(20, true), left: x, top: y, transform: 'translate(-50%,-50%)', color: '#000' }}>{t}</div>
      ))}
      <div style={{ ...textStyle(20), left: 1043, top: 610, transform: 'translate(-50%,-50%) rotate(-90deg)' }}>Obs. Pt. 4 Temp(°C)</div>
      <div style={{ ...textStyle(17), left: 768, top: 543, transform: 'translateY(-50%)' }}>Center WP</div>
      <div style={{ ...textStyle(17), left: 768, top: 607, transform: 'translateY(-50%)' }}>DRZ</div>
      <div style={{ ...textStyle(17), left: 878, top: 587, transform: 'translateY(-50%)' }}>Obs. Pt. 4</div>
      <div style={{ position: 'absolute', left: LEG.x, top: LEG.y, width: LEG.w, height: LEG.h, border: '1px solid #666', boxSizing: 'border-box', background: '#fff' }} />
      <ChartCanvas box={{ x: LEG.x, y: LEG.y, w: LEG.w, h: LEG.h }} make={makeLegend} />
      {SERIES_NAMES.map((n, i) => (
        <div key={n} style={{ position: 'absolute', left: 838, top: LEG.y + LEG.row0 + i * LEG.rowH, transform: 'translateY(-50%)', fontFamily: SERIF, fontSize: 18, fontStyle: i >= 3 ? 'italic' : 'normal', color: '#000', whiteSpace: 'nowrap', lineHeight: 1 }}>{n}</div>
      ))}
    </div>
  );
}
